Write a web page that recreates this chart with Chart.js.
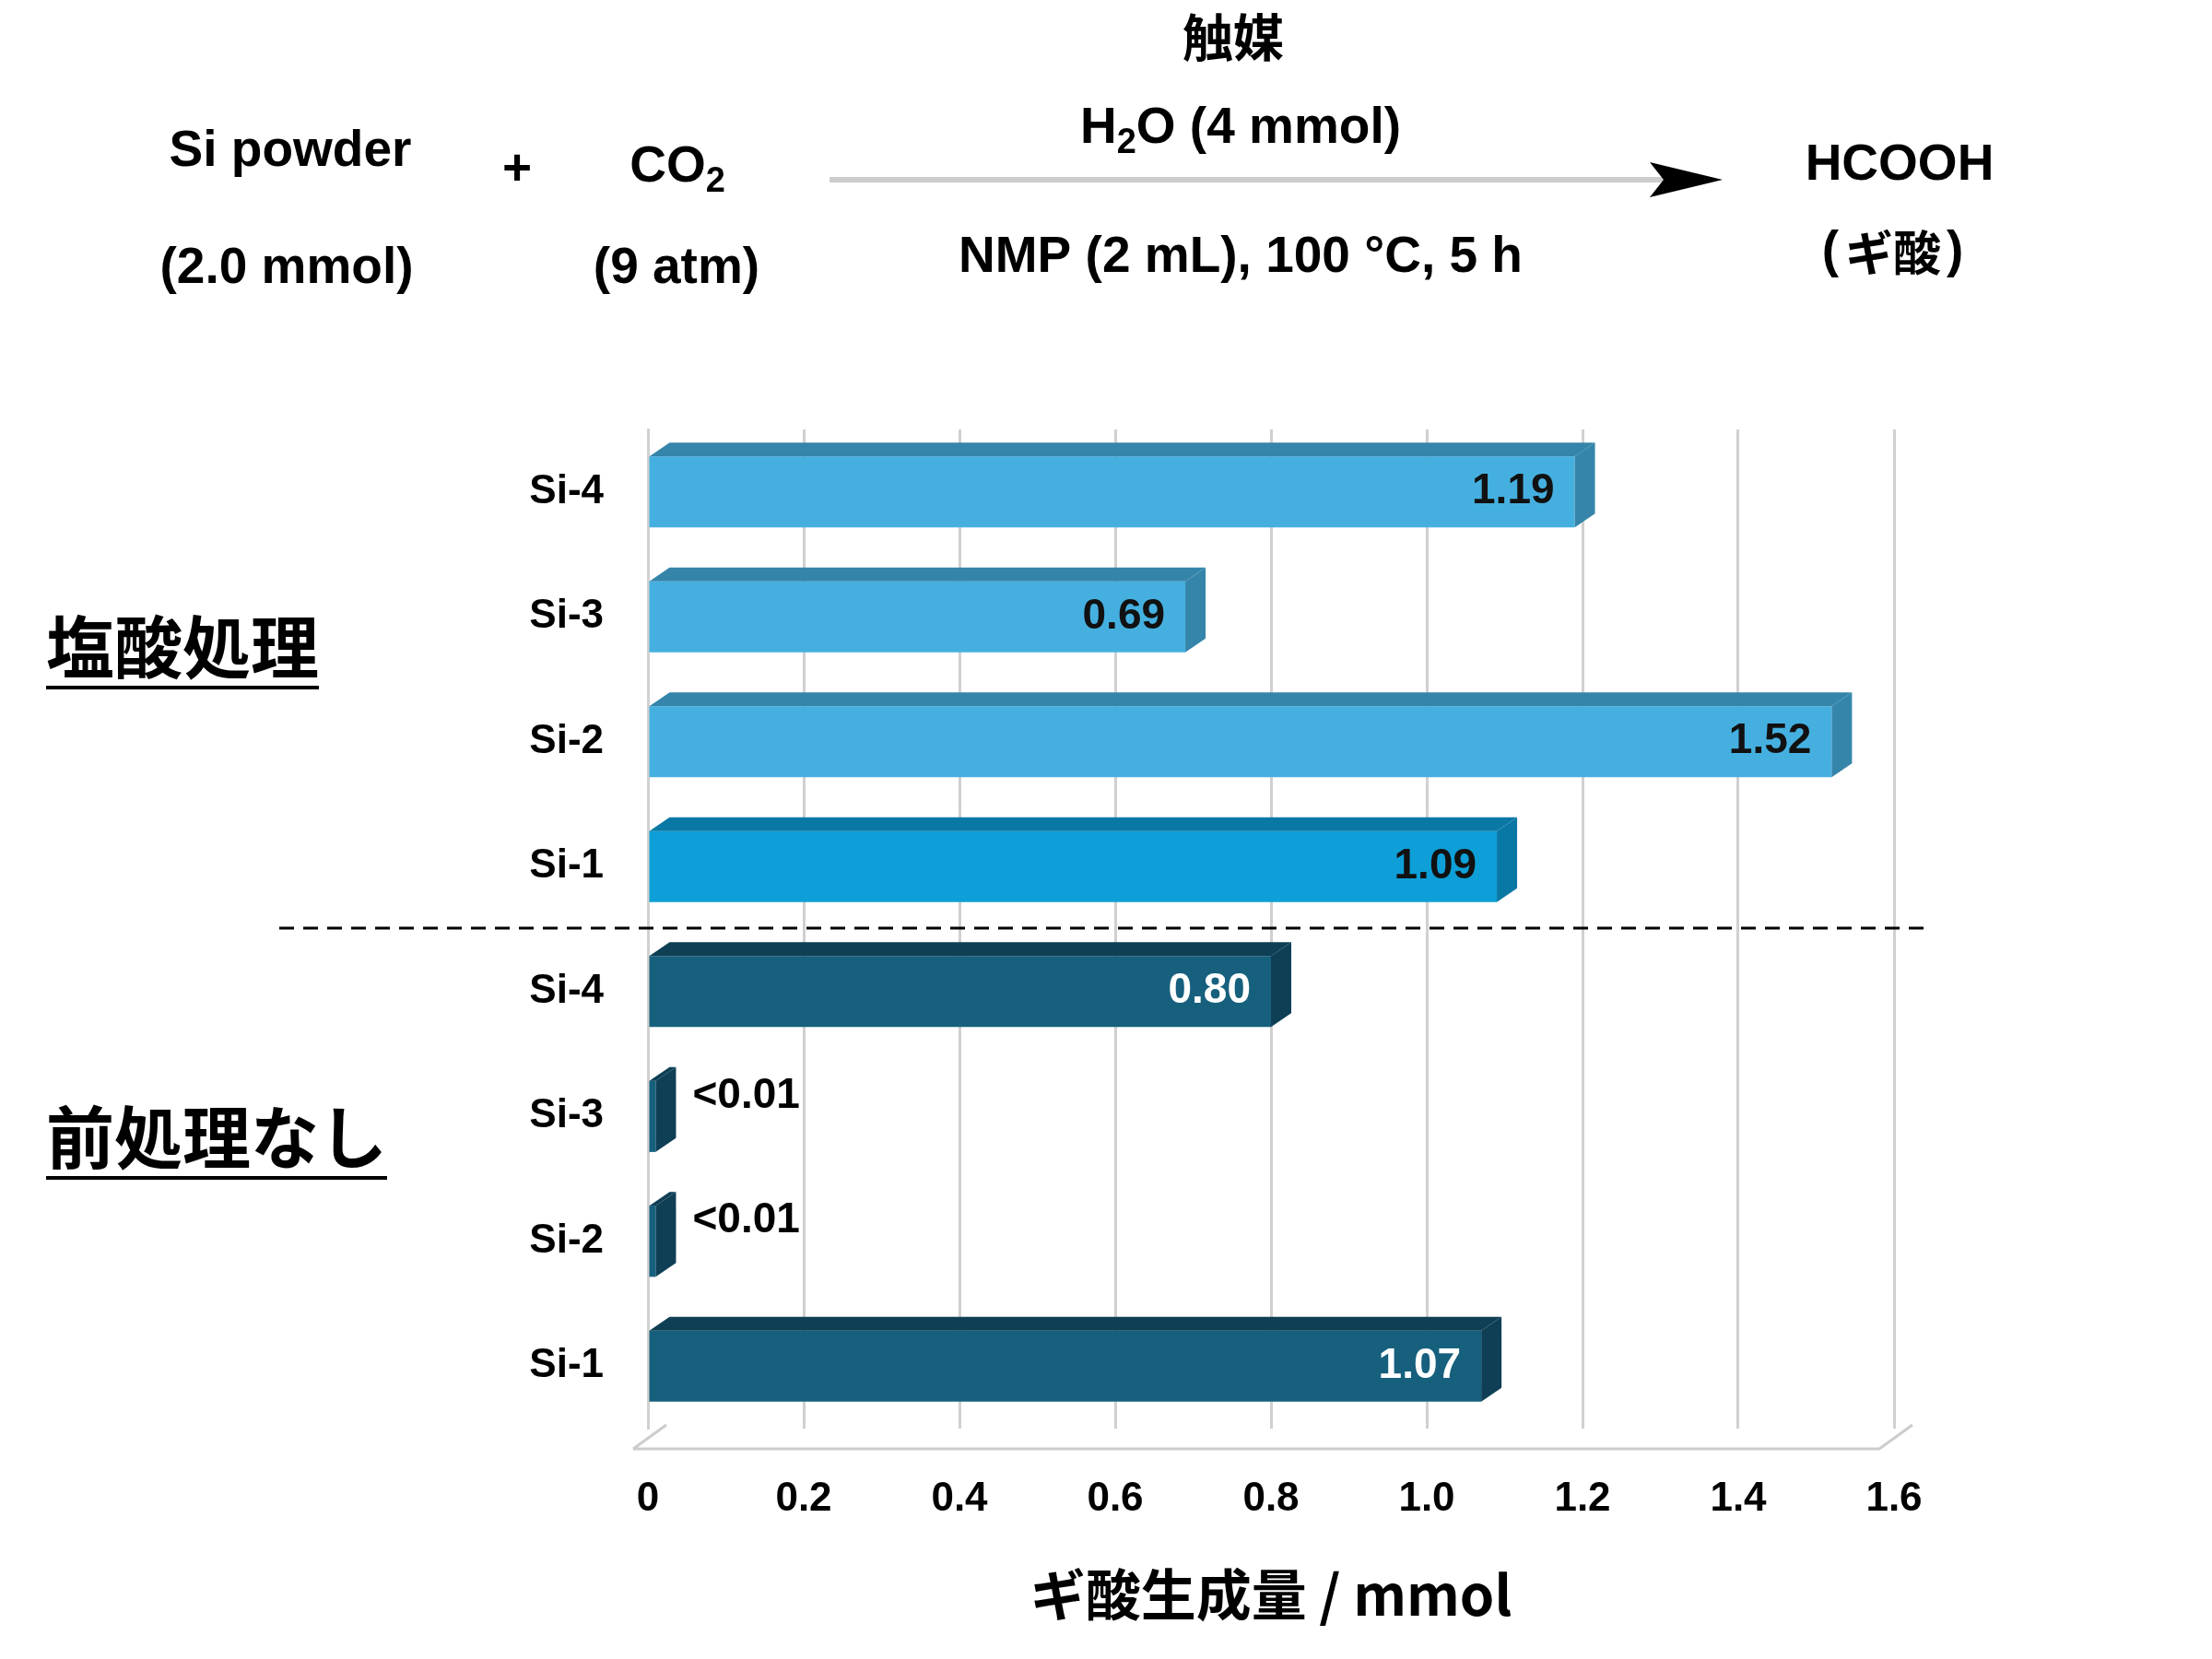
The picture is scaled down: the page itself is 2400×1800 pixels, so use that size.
<!DOCTYPE html>
<html><head><meta charset="utf-8">
<script src="https://cdn.jsdelivr.net/npm/chart.js@4/dist/chart.umd.min.js"></script>
<style>body{margin:0;background:#fff}#wrap{width:2400px;height:1800px}</style>
</head><body><div id="wrap"><canvas id="c"></canvas></div>
<script>
// data
const categories = ['Si-4', 'Si-3', 'Si-2', 'Si-1', 'Si-4', 'Si-3', 'Si-2', 'Si-1'];
const values = [1.19, 0.69, 1.52, 1.09, 0.80, 0.01, 0.01, 1.07];
const valueLabels = ['1.19', '0.69', '1.52', '1.09', '0.80', '<0.01', '<0.01', '1.07'];
const xTicks = [0, 0.2, 0.4, 0.6, 0.8, 1, 1.2, 1.4, 1.6];

const frontCol = ['#45B0E0', '#45B0E0', '#45B0E0', '#0E9FD8', '#16607E', '#16607E', '#16607E', '#16607E'];
const darkCol = ['#3585AA', '#3585AA', '#3585AA', '#0A78A5', '#0E3F55', '#0E3F55', '#0E3F55', '#0E3F55'];
const FONT = '"Liberation Sans", Arial, sans-serif';
const CJK = '"Noto Sans CJK JP", sans-serif';
const DX = 22, DY = -15;

const deco = {
  id: 'deco',
  afterDatasetsDraw(chart) {
    const ctx = chart.ctx;
    const meta = chart.getDatasetMeta(0);
    ctx.save();
    meta.data.forEach((b, i) => {
      const x0 = b.base, x1 = b.x, y0 = b.y - b.height / 2, y1 = b.y + b.height / 2;
      ctx.fillStyle = darkCol[i];
      ctx.beginPath();
      ctx.moveTo(x0, y0); ctx.lineTo(x0 + DX, y0 + DY); ctx.lineTo(x1 + DX, y0 + DY); ctx.lineTo(x1, y0);
      ctx.closePath(); ctx.fill();
      ctx.beginPath();
      ctx.moveTo(x1, y0); ctx.lineTo(x1 + DX, y0 + DY); ctx.lineTo(x1 + DX, y1 + DY); ctx.lineTo(x1, y1);
      ctx.closePath(); ctx.fill();
      ctx.font = 'bold 46px ' + FONT;
      ctx.textBaseline = 'middle';
      if (values[i] < 0.05) {
        ctx.fillStyle = '#000'; ctx.textAlign = 'left';
        ctx.fillText(valueLabels[i], x1 + 40, b.y - 22);
      } else {
        ctx.fillStyle = i < 4 ? '#111' : '#fff'; ctx.textAlign = 'right';
        ctx.fillText(valueLabels[i], x1 - 22, b.y);
      }
    });
    // dashed separator
    ctx.strokeStyle = '#000'; ctx.lineWidth = 3; ctx.setLineDash([16, 10]);
    ctx.beginPath(); ctx.moveTo(303, 1007); ctx.lineTo(2090, 1007); ctx.stroke();
    ctx.setLineDash([]);
    // floor edge
    const a = chart.chartArea;
    ctx.strokeStyle = '#ccc'; ctx.lineWidth = 3;
    ctx.beginPath(); ctx.moveTo(a.left - 16, a.bottom + 22); ctx.lineTo(a.left + 20, a.bottom - 4);
    ctx.moveTo(a.left - 16, a.bottom + 22); ctx.lineTo(a.right - 16, a.bottom + 22); ctx.lineTo(a.right + 20, a.bottom - 4);
    ctx.stroke();

    // group labels
    ctx.fillStyle = '#000'; ctx.textAlign = 'left'; ctx.textBaseline = 'alphabetic';
    ctx.font = 'bold 74px ' + CJK;
    [['塩酸処理', 50, 730], ['前処理なし', 50, 1262]].forEach(([t, x, y]) => {
      ctx.fillText(t, x, y);
      const w = ctx.measureText(t).width;
      ctx.fillRect(x, y + 14, w, 4);
    });

    // reaction scheme
    ctx.textAlign = 'center'; ctx.textBaseline = 'middle';
    const t = (s, x, y, f) => { ctx.font = f || ('bold 55px ' + FONT); ctx.fillText(s, x, y); };
    t('触媒', 1338, 40, 'bold 55px ' + CJK);
    t('Si powder', 315, 165); t('(2.0 mmol)', 311, 292);
    t('+', 561, 185);
    t('(9 atm)', 734, 292);
    t('NMP (2 mL), 100 °C, 5 h', 1346, 280);
    t('HCOOH', 2061, 180);
    ctx.font = 'bold 55px ' + FONT; ctx.textAlign = 'right'; ctx.fillText('(', 1995, 274);
    ctx.textAlign = 'left'; ctx.fillText(')', 2112, 274);
    t2 = ctx.textAlign = 'center'; t('ギ酸', 2054, 274, 'bold 52px ' + CJK);
    // CO2 with subscript
    const sub = (parts, cx, y) => {
      ctx.textAlign = 'left';
      let w = 0;
      parts.forEach(p => { ctx.font = p[1] ? 'bold 38px ' + FONT : 'bold 55px ' + FONT; w += ctx.measureText(p[0]).width; });
      let x = cx - w / 2;
      parts.forEach(p => { ctx.font = p[1] ? 'bold 38px ' + FONT : 'bold 55px ' + FONT; ctx.fillText(p[0], x, p[1] ? y + 16 : y); x += ctx.measureText(p[0]).width; });
      ctx.textAlign = 'center';
    };
    sub([['CO', 0], ['2', 1]], 735, 182);
    sub([['H', 0], ['2', 1], ['O (4 mmol)', 0]], 1346, 140);
    // arrow
    ctx.lineWidth = 6; ctx.beginPath(); ctx.moveTo(900, 195); ctx.lineTo(1810, 195); ctx.stroke();
    ctx.beginPath(); ctx.moveTo(1869, 195); ctx.lineTo(1790, 176); ctx.lineTo(1805, 195); ctx.lineTo(1790, 214); ctx.closePath(); ctx.fill();
    ctx.restore();
  }
};

new Chart(document.getElementById('c'), {
  type: 'bar',
  data: {
    labels: categories,
    datasets: [{ data: values, backgroundColor: frontCol, barPercentage: 0.57, categoryPercentage: 1 }]
  },
  options: {
    indexAxis: 'y', responsive: true, maintainAspectRatio: false, animation: false,
    layout: { padding: { left: 553, right: 345, top: 466, bottom: 30 } },
    plugins: { legend: { display: false }, tooltip: { enabled: false } },
    scales: {
      x: {
        min: 0, max: 1.6,
        afterFit(s) { s.height = 220; },
        afterBuildTicks(s) { s.ticks = xTicks.map(v => ({ value: v })); },
        grid: { color: '#d0d0d0', lineWidth: 3, drawTicks: false },
        border: { display: false },
        ticks: { color: '#000', padding: 50, font: { family: FONT, size: 44, weight: 'bold' } },
        title: { display: true, text: 'ギ酸生成量 / mmol', color: '#000', font: { family: CJK, size: 60, weight: 'bold' } }
      },
      y: {
        afterFit(s) { s.width = 150; },
        grid: { display: false },
        border: { color: '#d0d0d0', width: 3 },
        ticks: { color: '#000', padding: 40, font: { family: FONT, size: 44, weight: 'bold' } }
      }
    }
  },
  plugins: [deco]
});
</script></body></html>
